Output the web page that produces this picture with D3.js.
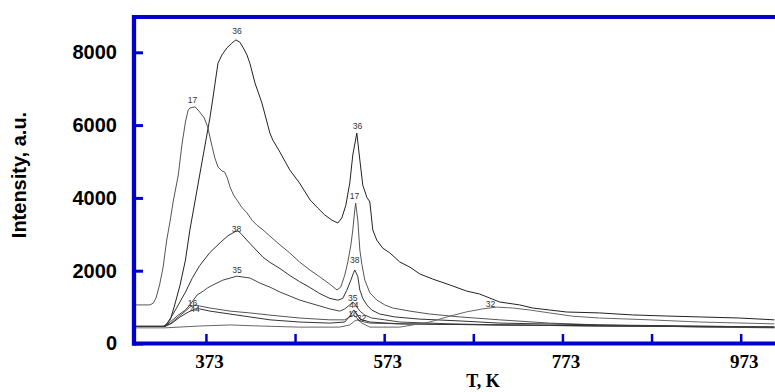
<!DOCTYPE html>
<html>
<head>
<meta charset="utf-8">
<script src="https://cdnjs.cloudflare.com/ajax/libs/d3/7.8.5/d3.min.js"></script>
<style>
body { margin:0; background:#fff; }
</style>
</head>
<body>
<div class="canvas"></div>
<script>
//------------------------data: [T (K), intensity (a.u.)] for each m/z trace
const m36 = [[292,470],[327,470],[333,650],[338,1060],[344,1610],[350,2290],[355,3120],[361,3940],[366,4630],[372,5450],
  [377.5,6200],[381,6770],[386.5,7700],[391,7930],[396.5,8120],[402,8250],[406.6,8340],[411,8280],[414.5,8140],[419,7930],
  [422.3,7700],[428,7160],[435.8,6610],[444.8,5780],[448,5590],[456,5260],[467,4770],[478,4410],[490,3940],[498.6,3720],
  [506.4,3530],[514.3,3390],[521,3310],[525.5,3450],[530,3800],[534.4,4410],[537.8,5180],[542.3,5780],[545.7,5040],[549,4350],
  [553.5,4020],[556.9,3890],[560.2,3120],[564.7,2840],[571.4,2620],[579.3,2490],[590.5,2240],[601.7,2100],[613,1910],[627.5,1770],
  [646.5,1610],[665.6,1440],[680,1360],[702.6,1140],[725,1060],[739.6,975],[758.7,920],[777.7,865],[814.7,840],[851.7,785],
  [889.8,755],[926.8,730],[971.7,700],[1010.7,650]];

const m17 = [[292,1060],[310,1060],[314,1110],[317,1250],[321,1610],[325,2100],[329,2840],[333,3390],[336,3860],[342,4630],
  [346,5450],[350,6085],[353,6410],[355,6470],[361,6500],[366,6360],[371,6200],[375,5950],[380,5400],[383,5100],
  [386.5,4850],[391,4740],[394,4710],[397,4550],[400,4300],[404,4080],[407.8,3940],[413,3750],[419,3590],[424.6,3390],
  [430,3255],[437,3120],[444.8,2950],[456,2710],[467,2490],[478,2240],[489.6,2020],[500.8,1830],[512,1630],[520,1470],
  [524.3,1550],[528.8,1880],[532.2,2240],[535.6,2700],[537.8,3120],[540,3670],[541,3860],[543.4,3390],[545.7,2570],[548,2170],
  [551.3,1740],[557,1390],[564.7,1195],[573.7,1060],[582.6,975],[601.7,890],[624,810],[657.8,730],[702.6,650],[758.7,560],
  [814.7,510],[870.8,480],[926.8,453],[1010.7,430]];

const m38 = [[292,470],[325,470],[329,540],[335,760],[342,1060],[350,1410],[358,1810],[366,2140],[377.5,2500],[389,2770],
  [397.7,2960],[405.5,3070],[409,3100],[413,3000],[422.3,2750],[437,2370],[444.8,2230],[456,2060],[467,1870],[478,1700],
  [489.6,1540],[500.8,1370],[512,1240],[521,1190],[526.6,1240],[531,1460],[535.6,1740],[538.9,1960],[540,2020],[543.4,1840],
  [545.7,1470],[549,1240],[553.5,1060],[559,920],[568,810],[584.9,730],[613,670],[657.8,620],[702.6,560],[758.7,535],
  [814.7,510],[926.8,480],[1010.7,450]];

const m35 = [[292,470],[327,470],[333,590],[342,780],[350,920],[355,1060],[363,1330],[370,1440],[375,1530],[381,1610],
  [392,1740],[407.8,1850],[422.3,1800],[433.5,1660],[444.8,1550],[456,1415],[467,1305],[478,1195],[489.6,1110],[500.8,1030],
  [512,950],[523,890],[528.8,950],[534.4,1060],[537.8,1140],[541,1060],[545.7,890],[551.3,780],[559,700],[573.7,650],
  [590.5,590],[646.5,540],[702.6,510],[814.7,480],[1010.7,450]];

const m16 = [[292,470],[327,470],[333,540],[342,730],[350,890],[355,1000],[361,1060],[366,1030],[377.5,975],[400,890],
  [422.3,840],[444.8,780],[478,700],[512,650],[528.8,650],[534.4,730],[537.8,780],[541,730],[545.7,620],[556.9,560],
  [590.5,540],[702.6,510],[814.7,480],[1010.7,450]];

const m44 = [[292,470],[327,470],[335,560],[344,730],[353,860],[361,950],[366,950],[377.5,890],[400,810],[422.3,730],
  [444.8,650],[478,590],[512,560],[528.8,590],[534.4,750],[538.9,920],[542.3,810],[545.7,670],[556.9,590],[590.5,540],
  [702.6,510],[1010.7,450]];

const m32 = [[292,430],[327,430],[366,480],[400,510],[433.5,480],[478,450],[523,450],[534.4,510],[540,620],[543.4,650],
  [548,560],[556.9,450],[590.5,450],[624,590],[646.5,750],[665.6,870],[683.5,950],[699.2,1000],[717.2,975],[736.2,920],
  [758.7,840],[784.4,750],[814.7,700],[870.8,650],[926.8,590],[1010.7,540]];

//------------------------peak labels: [m/z, T, intensity at text baseline]
const peakLabels = [['36',407.8,8500],['17',358,6610],['36',543,5880],['17',539.7,3970],['38',407.4,3055],['38',540,2200],
  ['35',407.8,1930],['35',537.8,1180],['16',357.9,1030],['44',360.7,875],['44',539,965],['16',538,735],['32',547.6,620],['32',692.3,1010]];

//------------------------axis ticks
const xTicks = [373,473,573,673,773,873,973];
const xTickLabels = [373,573,773,973];
const yTicks = [0,2000,4000,6000,8000];

const traces = [
  {name:'36', values:m36, color:'#222'},
  {name:'17', values:m17, color:'#555'},
  {name:'38', values:m38, color:'#333'},
  {name:'35', values:m35, color:'#444'},
  {name:'16', values:m16, color:'#555'},
  {name:'44', values:m44, color:'#333'},
  {name:'32', values:m32, color:'#666'}
];

//------------------------dimensions
const dims = { width:775, height:392 };
const plot = { left:134, right:775, top:17, bottom:343.5 };
const blue = '#0000cc';

const svg = d3.select('.canvas')
.append('svg')
.attr('width', dims.width)
.attr('height', dims.height);

const x = d3.scaleLinear()
.domain([292.3, 1011.5])
.range([plot.left, plot.right]);

const y = d3.scaleLinear()
.domain([0, 8970])
.range([plot.bottom, plot.top]);

//------------------------traces
const line = d3.line()
.x(d => x(d[0]))
.y(d => y(d[1]));

const graph = svg.append('g');

graph.selectAll('path.trace')
.data(traces)
.enter()
.append('path')
.attr('class', 'trace')
.attr('d', d => line(d.values))
.attr('fill', 'none')
.attr('stroke', d => d.color)
.attr('stroke-width', 1);

graph.selectAll('text.peak')
.data(peakLabels)
.enter()
.append('text')
.attr('class', 'peak')
.attr('x', d => x(d[1]))
.attr('y', d => y(d[2]))
.attr('text-anchor', 'middle')
.attr('font-family', 'Liberation Sans, Arial, sans-serif')
.attr('font-size', '8.5px')
.attr('fill', '#333')
.text(d => d[0]);

//------------------------axes
const xAxis = d3.axisBottom(x)
.tickValues(xTicks)
.tickSizeInner(-9.5)
.tickSizeOuter(0)
.tickPadding(11)
.tickFormat(d => xTickLabels.includes(d) ? d : '');

const xAxisGroup = svg.append('g')
.attr('transform', `translate(0, ${plot.bottom})`)
.call(xAxis);

xAxisGroup.select('.domain')
.attr('stroke', blue)
.attr('stroke-width', 4)
.attr('d', `M${plot.left - 2},0H${plot.right}`);

xAxisGroup.selectAll('.tick line')
.attr('stroke', blue)
.attr('stroke-width', 2.5);

xAxisGroup.selectAll('.tick text')
.attr('fill', '#000')
.attr('dx', 3)
.style('font-family', 'Liberation Serif, Times New Roman, serif')
.style('font-weight', 'bold')
.style('font-size', '19px');

const yAxis = d3.axisLeft(y)
.tickValues(yTicks)
.tickSizeInner(-9)
.tickSizeOuter(0)
.tickPadding(17)
.tickFormat(d3.format('d'));

const yAxisGroup = svg.append('g')
.attr('transform', `translate(${plot.left}, 0)`)
.call(yAxis);

yAxisGroup.select('.domain')
.attr('stroke', blue)
.attr('stroke-width', 4.3)
.attr('d', `M0,${plot.top - 2}V${plot.bottom + 2}`);

yAxisGroup.selectAll('.tick line')
.attr('stroke', blue)
.attr('stroke-width', 3);

yAxisGroup.selectAll('.tick text')
.attr('fill', '#000')
.style('font-family', 'Liberation Sans, Arial, sans-serif')
.style('font-weight', 'bold')
.style('font-size', '20px');

// top frame line
svg.append('line')
.attr('x1', plot.left - 2)
.attr('x2', plot.right)
.attr('y1', plot.top)
.attr('y2', plot.top)
.attr('stroke', blue)
.attr('stroke-width', 4);

//------------------------axis titles
svg.append('text')
.attr('transform', `translate(26, 175) rotate(-90)`)
.attr('text-anchor', 'middle')
.style('font-family', 'Liberation Sans, Arial, sans-serif')
.style('font-weight', 'bold')
.style('font-size', '20px')
.text('Intensity, a.u.');

svg.append('text')
.attr('x', 483)
.attr('y', 387)
.attr('text-anchor', 'middle')
.style('font-family', 'Liberation Serif, Times New Roman, serif')
.style('font-weight', 'bold')
.style('font-size', '18px')
.text('T, K');
</script>
</body>
</html>
